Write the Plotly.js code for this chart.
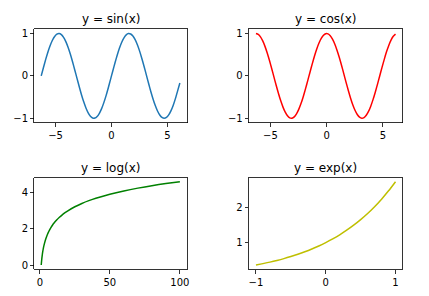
<!DOCTYPE html>
<html>
<head>
<meta charset="utf-8">
<script src="https://cdn.plot.ly/plotly-3.0.1.min.js"></script>
<style>html,body{margin:0;padding:0;background:#fff;}#chart{width:429px;height:296px;}</style>
</head>
<body>
<div id="chart"></div>
<script>
// Trig panels: x samples
var trigX = [-6.283, -6.083, -5.883, -5.683, -5.483, -5.283, -5.083, -4.883, -4.683, -4.483,
  -4.283, -4.083, -3.883, -3.683, -3.483, -3.283, -3.083, -2.883, -2.683, -2.483,
  -2.283, -2.083, -1.883, -1.683, -1.483, -1.283, -1.083, -0.883, -0.683, -0.483,
  -0.283, -0.083, 0.117, 0.317, 0.517, 0.717, 0.917, 1.117, 1.317, 1.517,
  1.717, 1.917, 2.117, 2.317, 2.517, 2.717, 2.917, 3.117, 3.317, 3.517,
  3.717, 3.917, 4.117, 4.317, 4.517, 4.717, 4.917, 5.117, 5.317, 5.517,
  5.717, 5.917, 6.117];
var sinY = [0, 0.199, 0.389, 0.565, 0.717, 0.841, 0.932, 0.985, 1.000, 0.974,
  0.909, 0.808, 0.675, 0.516, 0.335, 0.141, -0.058, -0.256, -0.443, -0.612,
  -0.757, -0.872, -0.952, -0.994, -0.996, -0.959, -0.883, -0.773, -0.631, -0.465,
  -0.279, -0.083, 0.117, 0.312, 0.494, 0.657, 0.794, 0.899, 0.968, 0.999,
  0.989, 0.941, 0.855, 0.735, 0.585, 0.412, 0.223, 0.025, -0.175, -0.367,
  -0.544, -0.700, -0.828, -0.922, -0.981, -1.000, -0.980, -0.921, -0.825, -0.697,
  -0.537, -0.354, -0.166];
var cosY = [1, 0.980, 0.921, 0.825, 0.697, 0.540, 0.362, 0.170, -0.029, -0.227,
  -0.416, -0.589, -0.737, -0.857, -0.942, -0.990, -0.998, -0.967, -0.897, -0.791,
  -0.654, -0.490, -0.307, -0.112, 0.087, 0.284, 0.469, 0.635, 0.776, 0.886,
  0.960, 0.997, 0.993, 0.950, 0.869, 0.754, 0.608, 0.439, 0.252, 0.054,
  -0.146, -0.339, -0.520, -0.680, -0.811, -0.911, -0.975, -1.000, -0.985, -0.930,
  -0.839, -0.714, -0.560, -0.384, -0.193, 0.004, 0.202, 0.391, 0.568, 0.719,
  0.844, 0.934, 0.986];
// Log panel
var logX = [1, 1.25, 1.5, 1.75, 2, 2.5, 3, 4, 5, 6, 7, 8, 9, 10, 12, 14, 16, 18, 20, 25, 30, 35, 40, 50, 60, 70, 80, 90, 100];
var logY = [0, 0.223, 0.405, 0.560, 0.693, 0.916, 1.099, 1.386, 1.609, 1.792, 1.946, 2.079, 2.197, 2.303, 2.485, 2.639, 2.773, 2.890,
  2.996, 3.219, 3.401, 3.555, 3.689, 3.912, 4.094, 4.248, 4.382, 4.500, 4.605];
// Exp panel
var expX = [-1, -0.9, -0.8, -0.7, -0.6, -0.5, -0.4, -0.3, -0.2, -0.1, 0, 0.1, 0.2, 0.3, 0.4, 0.5, 0.6, 0.7, 0.8, 0.9, 1];
var expY = [0.368, 0.407, 0.449, 0.497, 0.549, 0.607, 0.670, 0.741, 0.819, 0.905, 1, 1.105, 1.221, 1.350,
  1.492, 1.649, 1.822, 2.014, 2.226, 2.460, 2.718];
var titles = ["y = sin(x)", "y = cos(x)", "y = log(x)", "y = exp(x)"];

var W = 429, H = 296;
var colL = [34.3 / W, 186.8 / W], colR = [249 / W, 402.5 / W];
var rowT = [(H - 122.5) / H, (H - 29.3) / H], rowB = [(H - 269.2) / H, (H - 177.5) / H];

function line(x, y, color, xa, ya) {
  return {x: x, y: y, type: 'scatter', mode: 'lines', xaxis: xa, yaxis: ya,
    line: {color: color, width: 1.5, shape: 'spline', smoothing: 0.6}, hoverinfo: 'none', showlegend: false};
}
var data = [
  line(trigX, sinY, '#1f77b4', 'x', 'y'),
  line(trigX, cosY, '#ff0000', 'x2', 'y2'),
  line(logX, logY, '#008000', 'x3', 'y3'),
  line(expX, expY, '#bfbf00', 'x4', 'y4')
];
function ax(domain, range, tickvals, anchor) {
  return {domain: domain, range: range, anchor: anchor, tickmode: 'array', tickvals: tickvals,
    showline: true, mirror: true, linecolor: '#000', linewidth: 0.8,
    ticks: 'outside', ticklen: 3.5, tickwidth: 0.8, tickcolor: '#000',
    showgrid: false, zeroline: false, fixedrange: true,
    tickfont: {family: 'DejaVu Sans', size: 10, color: '#000'}};
}
var layout = {
  width: W, height: H, margin: {l: 0, r: 0, t: 0, b: 0},
  paper_bgcolor: '#fff', plot_bgcolor: '#fff', showlegend: false,
  xaxis: ax(colL, [-6.903, 6.737], [-5, 0, 5], 'y'),
  yaxis: ax(rowT, [-1.1, 1.1], [-1, 0, 1], 'x'),
  xaxis2: ax(colR, [-6.903, 6.737], [-5, 0, 5], 'y2'),
  yaxis2: ax(rowT, [-1.1, 1.1], [-1, 0, 1], 'x2'),
  xaxis3: ax(colL, [-3.95, 104.95], [0, 50, 100], 'y3'),
  yaxis3: ax(rowB, [-0.230, 4.835], [0, 2, 4], 'x3'),
  xaxis4: ax(colR, [-1.1, 1.1], [-1, 0, 1], 'y4'),
  yaxis4: ax(rowB, [0.250, 2.836], [1, 2], 'x4'),
  annotations: [
    [colL, rowT], [colR, rowT], [colL, rowB], [colR, rowB]
  ].map(function (d, i) {
    return {text: titles[i], xref: 'paper', yref: 'paper', x: (d[0][0] + d[0][1]) / 2, y: d[1][1],
      xanchor: 'center', yanchor: 'bottom', yshift: 1, showarrow: false,
      font: {family: 'DejaVu Sans', size: 12, color: '#000'}};
  })
};
Plotly.newPlot('chart', data, layout, {staticPlot: true, displayModeBar: false});
</script>
</body>
</html>
